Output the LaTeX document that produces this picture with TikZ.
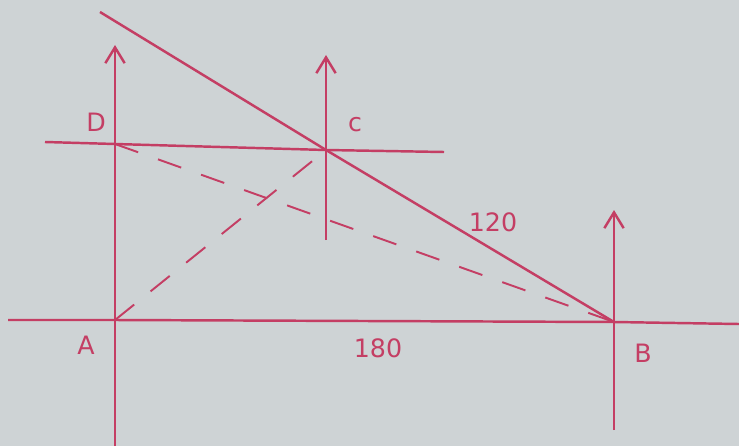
\documentclass[tikz,border=0pt]{standalone}
\usepackage{fontspec}
\setmainfont{DejaVu Sans}
\usetikzlibrary{arrows.meta}
\definecolor{board}{RGB}{206,211,213}
\definecolor{marker}{RGB}{196,62,100}
\tikzset{
  ink/.style={draw=marker, line width=1.4pt},
  dashink/.style={draw=marker, line width=1.1pt, dash pattern=on 14pt off 12pt},
  upray/.style={ink, -{Straight Barb[length=9pt,width=11pt]}},
  lbl/.style={text=marker, font=\Large}
}
\begin{document}
\begin{tikzpicture}[x=0.02cm, y=-0.02cm]
\fill[board] (0,0) rectangle (739,446);
\useasboundingbox (0,0) rectangle (739,446);

% points
\coordinate (A) at (115,320);
\coordinate (B) at (614,322);
\coordinate (C) at (326,150);
\coordinate (D) at (115,144);

% free ends
\coordinate (l1) at (8,320);
\coordinate (r1) at (739,324);
\coordinate (l2) at (45,142);
\coordinate (r2) at (444,152);
\coordinate (top) at (100,12);
\coordinate (Abot) at (115,446);
\coordinate (Atop) at (115,45);
\coordinate (Cbot) at (326,240);
\coordinate (Ctop) at (326,55);
\coordinate (Bbot) at (614,430);
\coordinate (Btop) at (614,210);

\draw[ink] (l1) -- (A) -- (B) -- (r1);
\draw[ink] (l2) -- (D) -- (C) -- (r2);
\draw[ink] (top) -- (C) -- (B);

\draw[upray] (Abot) -- (Atop);
\draw[upray] (Cbot) -- (Ctop);
\draw[upray] (Bbot) -- (Btop);

\draw[dashink] (D) -- (B);
\draw[dashink] (A) -- (C);

\node[lbl] (labD) at (96,122) {D};
\node[lbl] (labC) at (355,125) {c};
\node[lbl] (labA) at (86,345) {A};
\node[lbl] (labB) at (643,353) {B};
\node[lbl] (len1) at (493,222) {120};
\node[lbl] (len2) at (378,348) {180};
\end{tikzpicture}
\end{document}
